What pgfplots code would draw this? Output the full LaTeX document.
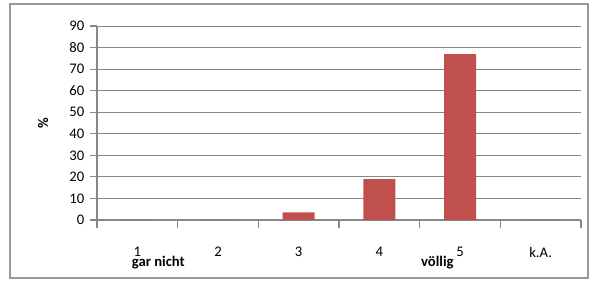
\documentclass[border=0pt]{standalone}
\usepackage{pgfplots}
\pgfplotsset{compat=1.18}
\usepackage{fontspec}
\setmainfont{Carlito}
\definecolor{barred}{HTML}{C0504D}
\definecolor{gridgray}{HTML}{878787}
\definecolor{framegray}{HTML}{999999}
\begin{document}
\begin{tikzpicture}[x=0.75pt,y=0.75pt]
\useasboundingbox (0,0) rectangle (592,282);
\draw[framegray, line width=1.1pt] (10,4) rectangle (588,278);
\begin{axis}[
  at={(72.75pt,46.5pt)}, anchor=south west,
  scale only axis, width=363pt, height=145.5pt,
  xmin=-0.5, xmax=5.5, ymin=0, ymax=90,
  ytick={0,10,...,90},
  xtick={0,...,5},
  xticklabels={1,2,3,4,5,k.A.},
  minor xtick={-0.5,0.5,...,5.5},
  major x tick style={draw=none},
  minor x tick style={gridgray, line width=0.8pt},
  y tick style={gridgray, line width=0.8pt},
  tick align=outside,
  minor tick length=6pt,
  major tick length=5pt,
  axis x line*=bottom, axis y line*=left,
  axis line style={gridgray, line width=0.8pt, -},
  ymajorgrids, major grid style={gridgray, line width=0.7pt},
  xticklabel style={yshift=-12pt},
  yticklabel style={xshift=-1pt},
  tick label style={font=\fontsize{11}{13}\selectfont},
  /pgf/number format/assume math mode=true,
  ylabel={\textbf{\%}}, ylabel style={font=\fontsize{11}{13}\selectfont, yshift=9pt},
  ybar, bar width=24pt,
  clip=false,
]
\addplot[fill=barred, draw=none] coordinates {(0,0) (1,0) (2,3.5) (3,19) (4,77) (5,0)};
\node[font=\bfseries\fontsize{11}{13}\selectfont] at (axis cs:0.26,-19.8) {gar nicht};
\node[font=\bfseries\fontsize{11}{13}\selectfont] at (axis cs:3.72,-19.8) {völlig};
\end{axis}
\end{tikzpicture}
\end{document}
